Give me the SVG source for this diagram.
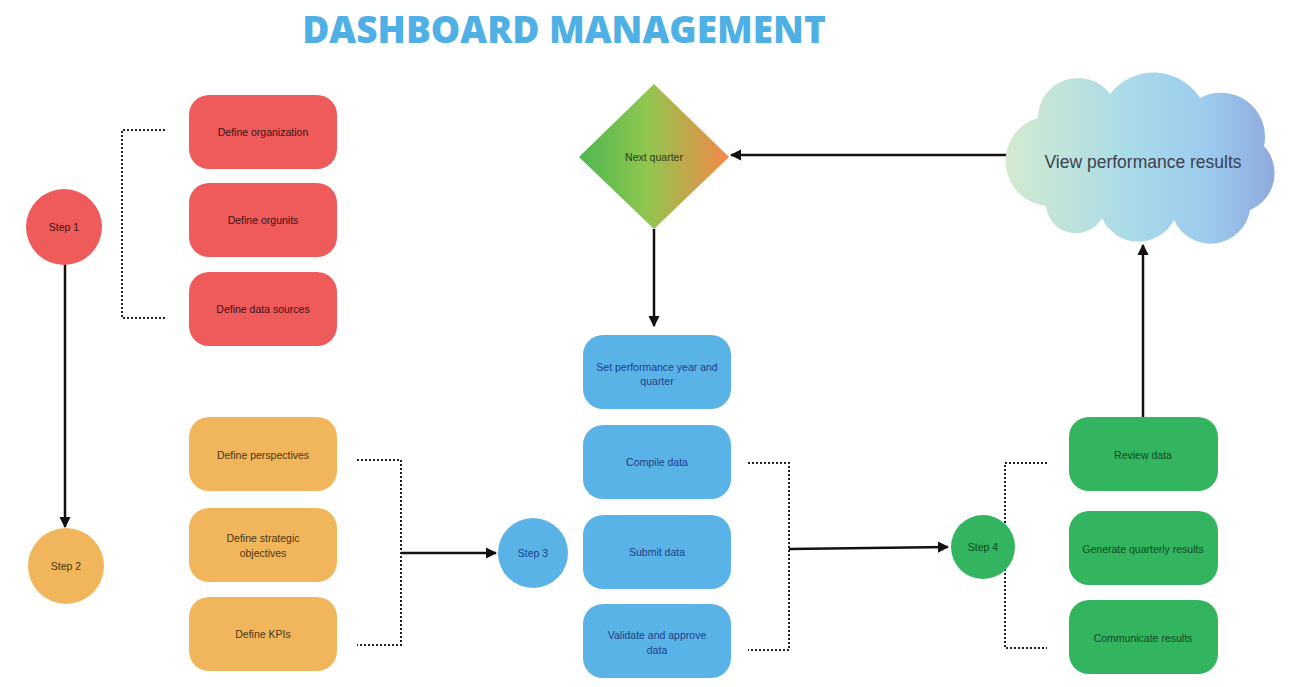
<svg xmlns="http://www.w3.org/2000/svg" width="1297" height="687" viewBox="0 0 1297 687">
<style>
.t{font-family:"Liberation Sans",Arial,sans-serif;font-size:10.5px;text-anchor:middle;dominant-baseline:central}
.red{fill:#ef5a5a}.org{fill:#f1b65c}.blu{fill:#5ab3e6}.grn{fill:#33b45f}
.tr{fill:#3a1414}.to{fill:#4a3410}.tb{fill:#1b3e8c}.tg{fill:#0c4a22}
.dot{fill:none;stroke:#222;stroke-width:2;stroke-dasharray:2 2}
.arr{fill:none;stroke:#111;stroke-width:2.5;marker-end:url(#ah)}
.title{font-family:"Open Sans","Liberation Sans",sans-serif;font-size:37px;font-weight:800;fill:#4fb0e5}
</style>
<defs>
<marker id="ah" viewBox="0 0 10 10" refX="9" refY="5" markerWidth="4.5" markerHeight="4.5" orient="auto" markerUnits="strokeWidth">
<path d="M0,0 L10,5 L0,10 z" fill="#111"/>
</marker>
<linearGradient id="gd" x1="0" y1="0" x2="1" y2="0">
<stop offset="0" stop-color="#4cb74f"/><stop offset="0.45" stop-color="#8fc64f"/><stop offset="1" stop-color="#f48848"/>
</linearGradient>
<linearGradient id="gc" x1="0" y1="0" x2="1" y2="0">
<stop offset="0" stop-color="#d4ead0"/><stop offset="0.45" stop-color="#aadbe8"/><stop offset="0.75" stop-color="#9ccbee"/><stop offset="1" stop-color="#8ea9db"/>
</linearGradient>
</defs>
<rect width="1297" height="687" fill="#fff"/>
<text id="title" class="title" x="564" y="43" text-anchor="middle">DASHBOARD MANAGEMENT</text>

<g id="connectors">
<path class="dot" d="M165,130 H122 V318 H165"/>
<path class="dot" d="M357,460 H401 V645 H357"/>
<path class="dot" d="M748,463 H789 V650 H748"/>
<path class="dot" d="M1047,463 H1005 V648 H1047"/>
<path class="arr" d="M65,264 V527"/>
<path class="arr" d="M401,553 H496"/>
<path class="arr" d="M789,549 L948,547"/>
<path class="arr" d="M1143,417 V245"/>
<path class="arr" d="M1007,155 H731"/>
<path class="arr" d="M654,229 V326"/>
</g>

<g id="step1"><circle class="red" cx="64" cy="227" r="38"/><text class="t tr" x="64" y="227">Step 1</text></g>
<g id="step2"><circle class="org" cx="66" cy="566" r="38"/><text class="t to" x="66" y="566">Step 2</text></g>
<g id="step3"><circle class="blu" cx="533" cy="553" r="35"/><text class="t tb" x="533" y="553">Step 3</text></g>
<g id="step4"><circle class="grn" cx="983" cy="547" r="32"/><text class="t tg" x="983" y="547">Step 4</text></g>

<g id="define-organization"><rect class="red" x="189" y="95" width="148" height="74" rx="20"/><text class="t tr" x="263" y="132">Define organization</text></g>
<g id="define-orgunits"><rect class="red" x="189" y="183" width="148" height="74" rx="20"/><text class="t tr" x="263" y="220">Define orgunits</text></g>
<g id="define-data-sources"><rect class="red" x="189" y="272" width="148" height="74" rx="20"/><text class="t tr" x="263" y="309">Define data sources</text></g>

<g id="define-perspectives"><rect class="org" x="189" y="417" width="148" height="74" rx="20"/><text class="t to" x="263" y="455">Define perspectives</text></g>
<g id="define-strategic-objectives"><rect class="org" x="189" y="508" width="148" height="74" rx="20"/><text class="t to" x="263" y="538">Define strategic</text><text class="t to" x="263" y="553">objectives</text></g>
<g id="define-kpis"><rect class="org" x="189" y="597" width="148" height="74" rx="20"/><text class="t to" x="263" y="634">Define KPIs</text></g>

<g id="set-performance"><rect class="blu" x="583" y="335" width="148" height="74" rx="20"/><text class="t tb" x="657" y="367">Set performance year and</text><text class="t tb" x="657" y="381">quarter</text></g>
<g id="compile-data"><rect class="blu" x="583" y="425" width="148" height="74" rx="20"/><text class="t tb" x="657" y="462">Compile data</text></g>
<g id="submit-data"><rect class="blu" x="583" y="515" width="148" height="74" rx="20"/><text class="t tb" x="657" y="552">Submit data</text></g>
<g id="validate-data"><rect class="blu" x="583" y="604" width="148" height="74" rx="20"/><text class="t tb" x="657" y="635">Validate and approve</text><text class="t tb" x="657" y="650">data</text></g>

<g id="review-data"><rect class="grn" x="1069" y="417" width="149" height="74" rx="20"/><text class="t tg" x="1143" y="455">Review data</text></g>
<g id="generate-results"><rect class="grn" x="1069" y="511" width="149" height="74" rx="20"/><text class="t tg" x="1143" y="549">Generate quarterly results</text></g>
<g id="communicate-results"><rect class="grn" x="1069" y="600" width="149" height="74" rx="20"/><text class="t tg" x="1143" y="638">Communicate results</text></g>

<g id="next-quarter"><polygon points="654,84 729,157 654,229 579,157" fill="url(#gd)"/><text class="t" x="654" y="157" fill="#2a3a10">Next quarter</text></g>

<g id="view-performance">
<path fill="url(#gc)" d="M1046,206 A45,45 0 0 1 1038,118 A40,40 0 0 1 1110,94 A55,55 0 0 1 1200,98 A44,44 0 0 1 1264,146 A40,40 0 0 1 1250,210 A40,40 0 0 1 1174,220 A40,40 0 0 1 1102,218 A30,30 0 0 1 1046,206 Z"/>
<text x="1143" y="162" font-family="Liberation Sans,Arial,sans-serif" font-size="17.5" fill="#3a4250" text-anchor="middle" dominant-baseline="central">View performance results</text>
</g>
</svg>
